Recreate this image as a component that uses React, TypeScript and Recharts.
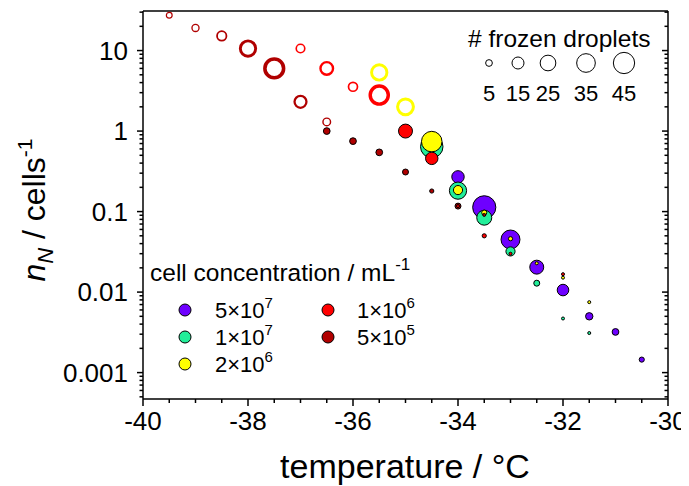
import React from 'react';
import { ScatterChart, Scatter, XAxis, YAxis, ZAxis } from 'recharts';

const FONT = '"Liberation Sans", Arial, Helvetica, sans-serif';

// ---- axis ticks ----
const xMajorTicks = [-40, -38, -36, -34, -32, -30];
const xAllTicks = [-40, -39.5, -39, -38.5, -38, -37.5, -37, -36.5, -36, -35.5, -35, -34.5, -34, -33.5, -33, -32.5, -32, -31.5, -31, -30.5, -30];
const yMajorTicks = [0.001, 0.01, 0.1, 1, 10];
const yAllTicks = [
  0.0005, 0.0006, 0.0007, 0.0008, 0.0009,
  0.001, 0.002, 0.003, 0.004, 0.005, 0.006, 0.007, 0.008, 0.009,
  0.01, 0.02, 0.03, 0.04, 0.05, 0.06, 0.07, 0.08, 0.09,
  0.1, 0.2, 0.3, 0.4, 0.5, 0.6, 0.7, 0.8, 0.9,
  1, 2, 3, 4, 5, 6, 7, 8, 9,
  10, 20, 30,
];
const X_DOMAIN = [-40, -30];
const Y_DOMAIN = [0.00047, 31];

// ---- data: temperature (°C), n_N (cells^-1), # frozen droplets ----
// 5×10^7 (filled)
const purpleT = [-34, -33.5, -33, -32.5, -32, -31.5, -31, -30.5];
const purpleN = [0.27, 0.113, 0.045, 0.0204, 0.0106, 0.005, 0.0032, 0.00145];
const purpleF = [16, 53, 36, 20, 14, 6, 5, 3];
// 1×10^7 (filled)
const greenT = [-34.5, -34, -33.5, -33, -32.5, -32, -31.5];
const greenN = [0.64, 0.182, 0.084, 0.032, 0.0129, 0.0047, 0.0031];
const greenF = [50, 30, 23, 9, 4, 1, 1];
// 2×10^6 (filled)
const yellowT = [-34.5, -34, -33.5, -33, -32.5, -32, -31.5];
const yellowN = [0.74, 0.185, 0.097, 0.046, 0.0228, 0.0151, 0.0075];
const yellowF = [42, 9, 3, 2, 1, 1, 1];
// 2×10^6 (open)
const yellowOpenT = [-35.5, -35];
const yellowOpenN = [5.35, 2.0];
const yellowOpenF = [30, 32];
// 1×10^6 (filled)
const redT = [-35, -34.5, -34, -33.5, -33, -32];
const redN = [1.0, 0.458, 0.117, 0.05, 0.03, 0.0167];
const redF = [20, 16, 1, 2, 1, 1];
// 1×10^6 (open)
const redOpenT = [-37, -36.5, -36, -35.5];
const redOpenN = [10.6, 6.0, 3.55, 2.8];
const redOpenF = [9, 20, 10, 42];
// 5×10^5 (filled)
const darkRedT = [-36.5, -36, -35.5, -35, -34.5, -34, -33.5];
const darkRedN = [1.0, 0.75, 0.544, 0.31, 0.18, 0.117, 0.091];
const darkRedF = [5, 5, 5, 4, 2, 4, 1];
// 5×10^5 (open)
const darkRedOpenT = [-39.5, -39, -38.5, -38, -37.5, -37, -36.5];
const darkRedOpenN = [27.5, 19.1, 15.2, 10.6, 6.0, 2.31, 1.3];
const darkRedOpenF = [4, 6, 11, 30, 45, 18, 7];

// bubble-size legend
const sizeLegendValues = [5, 15, 25, 35, 45];

const Z_DOMAIN = [0, 60];
const Z_RANGE = [4, 519];

const COLORS = {
  purple: '#6E00FF',
  green: '#22EE99',
  yellow: '#FFFF00',
  red: '#FF0000',
  darkRed: '#B00000',
};

const toPoints = (t: number[], n: number[], f: number[]) =>
  t.map((ti, i) => ({ t: ti, n: n[i], f: f[i] }));

const diamFromSize = (size: number) => 2 * Math.sqrt(Math.max(size, 0) / Math.PI);

const makeFilled = (color: string) => (props: any) => {
  const { cx, cy, size } = props;
  if (cx == null || cy == null) return <g />;
  const d = diamFromSize(size ?? 20);
  return (
    <circle cx={cx} cy={cy} r={Math.max(0.8, d / 2 - 0.5)} fill={color} stroke="#000" strokeWidth={1} />
  );
};

const makeOpen = (color: string) => (props: any) => {
  const { cx, cy, size } = props;
  if (cx == null || cy == null) return <g />;
  const d = diamFromSize(size ?? 20);
  const sw = Math.max(1.2, d * 0.16);
  return (
    <circle cx={cx} cy={cy} r={Math.max(0.8, d / 2 - sw / 2)} fill="none" stroke={color} strokeWidth={sw} />
  );
};

const BottomTick = (p: any) => {
  const { x, y, payload } = p;
  const v = payload.value;
  const major = xMajorTicks.includes(v);
  return (
    <g>
      <line x1={x} x2={x} y1={y} y2={y + (major ? 7 : 4)} stroke="#000" strokeWidth={1.5} />
      {major && (
        <text x={x} y={y + 31} textAnchor="middle" fontSize={26} fontFamily={FONT} fill="#000">
          {String(v)}
        </text>
      )}
    </g>
  );
};

const TopTick = (p: any) => {
  const { x, y, payload } = p;
  const major = xMajorTicks.includes(payload.value);
  return <line x1={x} x2={x} y1={y} y2={y + (major ? 7 : 4)} stroke="#000" strokeWidth={1.5} />;
};

const LeftTick = (p: any) => {
  const { x, y, payload } = p;
  const v = payload.value;
  const major = yMajorTicks.includes(v);
  return (
    <g>
      <line x1={x - (major ? 6 : 3.5)} x2={x} y1={y} y2={y} stroke="#000" strokeWidth={1.5} />
      {major && (
        <text x={x - 15} y={y + 9} textAnchor="end" fontSize={26} fontFamily={FONT} fill="#000">
          {String(v)}
        </text>
      )}
    </g>
  );
};

const RightTick = (p: any) => {
  const { x, y, payload } = p;
  const major = yMajorTicks.includes(payload.value);
  return <line x1={x - (major ? 6 : 3.5)} x2={x} y1={y} y2={y} stroke="#000" strokeWidth={1.5} />;
};

const axisLine = { stroke: '#000', strokeWidth: 1.5 };

const series = [
  { name: 'o5e5', data: toPoints(darkRedOpenT, darkRedOpenN, darkRedOpenF), shape: makeOpen(COLORS.darkRed) },
  { name: 'o1e6', data: toPoints(redOpenT, redOpenN, redOpenF), shape: makeOpen(COLORS.red) },
  { name: 'o2e6', data: toPoints(yellowOpenT, yellowOpenN, yellowOpenF), shape: makeOpen(COLORS.yellow) },
  { name: '5e7', data: toPoints(purpleT, purpleN, purpleF), shape: makeFilled(COLORS.purple) },
  { name: '1e7', data: toPoints(greenT, greenN, greenF), shape: makeFilled(COLORS.green) },
  { name: '2e6', data: toPoints(yellowT, yellowN, yellowF), shape: makeFilled(COLORS.yellow) },
  { name: '5e5', data: toPoints(darkRedT, darkRedN, darkRedF), shape: makeFilled(COLORS.darkRed) },
  { name: '1e6', data: toPoints(redT, redN, redF), shape: makeFilled(COLORS.red) },
];

const legendItems = [
  { color: COLORS.purple, base: '5×10', exp: '7', col: 0, row: 0 },
  { color: COLORS.green, base: '1×10', exp: '7', col: 0, row: 1 },
  { color: COLORS.yellow, base: '2×10', exp: '6', col: 0, row: 2 },
  { color: COLORS.red, base: '1×10', exp: '6', col: 1, row: 0 },
  { color: COLORS.darkRed, base: '5×10', exp: '5', col: 1, row: 1 },
];

const legendDiam = (v: number) => {
  const area = Z_RANGE[0] + ((Z_RANGE[1] - Z_RANGE[0]) * (v - Z_DOMAIN[0])) / (Z_DOMAIN[1] - Z_DOMAIN[0]);
  return diamFromSize(area);
};

const W = 681;
const H = 478;

export default function App() {
  const sizeX = [481, 510, 540, 578, 616];
  return (
    <div style={{ position: 'relative', width: W, height: H, background: '#fff' }}>
      <ScatterChart width={W} height={H} margin={{ top: 2, right: 20, bottom: 47, left: 65 }}>
        <XAxis
          xAxisId="b"
          type="number"
          dataKey="t"
          domain={X_DOMAIN}
          ticks={xAllTicks}
          interval={0}
          tickSize={0}
          tickMargin={0}
          tickLine={false}
          tick={BottomTick}
          axisLine={axisLine}
          height={40}
        />
        <XAxis
          xAxisId="t"
          orientation="top"
          type="number"
          domain={X_DOMAIN}
          allowDataOverflow
          ticks={xAllTicks}
          interval={0}
          tickSize={0}
          tickMargin={0}
          tickLine={false}
          tick={TopTick}
          axisLine={axisLine}
          height={1}
        />
        <YAxis
          yAxisId="l"
          type="number"
          dataKey="n"
          scale="log"
          domain={Y_DOMAIN}
          ticks={yAllTicks}
          interval={0}
          tickSize={0}
          tickMargin={0}
          tickLine={false}
          tick={LeftTick}
          axisLine={axisLine}
          width={70}
        />
        <YAxis
          yAxisId="r"
          orientation="right"
          type="number"
          scale="log"
          domain={Y_DOMAIN}
          allowDataOverflow
          ticks={yAllTicks}
          interval={0}
          tickSize={0}
          tickMargin={0}
          tickLine={false}
          tick={RightTick}
          axisLine={axisLine}
          width={1}
        />
        <ZAxis type="number" dataKey="f" domain={Z_DOMAIN} range={Z_RANGE} />
        {series.map((s) => (
          <Scatter
            key={s.name}
            name={s.name}
            xAxisId="b"
            yAxisId="l"
            data={s.data}
            shape={s.shape}
            isAnimationActive={false}
          />
        ))}
      </ScatterChart>
      <svg
        width={W}
        height={H}
        style={{ position: 'absolute', left: 0, top: 0, pointerEvents: 'none' }}
        fontFamily={FONT}
      >
        {/* axis titles */}
        <text x={397} y={470} textAnchor="middle" fontSize={34} fill="#000">
          temperature / °C
        </text>
        <text x={37} y={202} transform="rotate(-90 37 202)" textAnchor="middle" fontSize={32} fill="#000">
          <tspan fontStyle="italic">n</tspan>
          <tspan fontStyle="italic" fontSize={22} dy={8}>N</tspan>
          <tspan dy={-8}> / cells</tspan>
          <tspan fontSize={21} dy={-13}>-1</tspan>
        </text>

        {/* frozen droplets legend */}
        <text x={460} y={39} fontSize={24.5} fill="#000">
          # frozen droplets
        </text>
        {sizeLegendValues.map((v, i) => (
          <g key={v}>
            <circle cx={sizeX[i]} cy={55} r={legendDiam(v) / 2 - 0.5} fill="none" stroke="#000" strokeWidth={1} />
            <text x={sizeX[i]} y={93} textAnchor="middle" fontSize={22} fill="#000">
              {v}
            </text>
          </g>
        ))}

        {/* cell concentration legend */}
        <text x={142} y={273} fontSize={24.5} fill="#000">
          cell concentration / mL<tspan fontSize={17} dy={-11}>-1</tspan>
        </text>
        {legendItems.map((it) => {
          const cx = it.col === 0 ? 177 : 320;
          const tx = it.col === 0 ? 207 : 349;
          const base = 310 + it.row * 27;
          return (
            <g key={it.base + it.exp + it.col}>
              <circle cx={cx} cy={base - 8} r={6} fill={it.color} stroke="#000" strokeWidth={1} />
              <text x={tx} y={base} fontSize={22} fill="#000">
                {it.base}
                <tspan fontSize={15} dy={-10}>{it.exp}</tspan>
              </text>
            </g>
          );
        })}
      </svg>
    </div>
  );
}
